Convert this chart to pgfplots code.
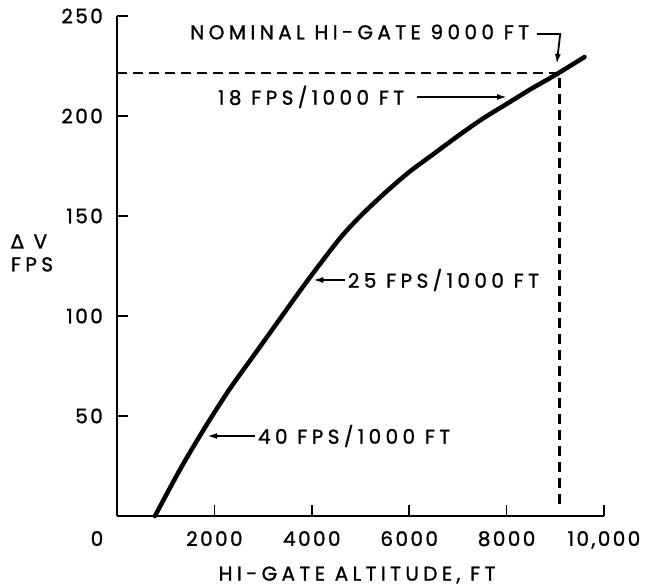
\documentclass[border=0pt]{standalone}
\usepackage{fontspec}
\setmainfont{Poppins}[LetterSpace=22, FakeBold=1.2]
\newfontfamily\tickfont{Poppins}[LetterSpace=12, FakeBold=1.2]
\newfontfamily\dejavu{DejaVu Sans}[FakeBold=1.2]
\usepackage{pgfplots}
\pgfplotsset{compat=1.18}
\usetikzlibrary{arrows.meta}
\begin{document}
\begin{tikzpicture}[font=\fontsize{20}{23}\selectfont]
\path[use as bounding box] (-117pt,-72pt) rectangle (528pt,516pt);
\begin{axis}[at={(0pt,0pt)}, anchor=south west, scale only axis,
  width=487pt, height=500pt,
  xmin=0, xmax=10000, ymin=0, ymax=250,
  axis x line=bottom, axis y line=left,
  axis line style={-, line width=1.8pt},
  scaled x ticks=false,
  xtick={2000,4000,6000,8000,10000},
  xticklabels={2000,4000,6000,8000,{10,000}},
  ytick={50,100,150,200,250},
  tick align=inside, major tick length=11pt,
  tick style={line width=1.6pt, black},
  /pgf/number format/assume math mode=true,
  ticklabel style={font=\tickfont\fontsize{20}{23}\selectfont},
  xticklabel style={anchor=north, inner sep=0pt, yshift=-15pt},
  yticklabel style={anchor=east, inner sep=0pt, xshift=-14pt},
  clip=false]
\addplot[line width=4.5pt, smooth, tension=0.5, line cap=round] coordinates {
(780,0) (1300,23.5) (1800,44) (2300,63) (2800,80) (3300,97) (3800,114)
(4200,127) (4600,139.5) (5000,150) (5500,161.5) (6000,172) (6500,181)
(7000,190) (7500,198.5) (8000,206) (8500,213.5) (9000,220.5) (9600,229.5)};
\addplot[line width=2.2pt, dash pattern=on 10pt off 6pt] coordinates {(0,221.6) (9087,221.6) (9087,4)};
% annotations
\node[anchor=west, inner sep=0pt] at (axis cs:1500,242) {NOMINAL HI-GATE 9000 FT};
\draw[line width=1.8pt, -{Latex[length=10pt,width=6pt]}] (axis cs:8620,241) -- (axis cs:9100,241) -- (axis cs:9030,226);
\node[anchor=west, inner sep=0pt] at (axis cs:2072,209.5) {18 FPS/1000 FT};
\draw[line width=1.8pt, -{Latex[length=10pt,width=6pt]}] (axis cs:6154,209.5) -- (axis cs:8010,209.5);
\node[anchor=west, inner sep=0pt] at (axis cs:4738,118) {25 FPS/1000 FT};
\draw[line width=1.8pt, -{Latex[length=10pt,width=6pt]}] (axis cs:4677,118) -- (axis cs:4030,118);
\node[anchor=west, inner sep=0pt] at (axis cs:2892,40) {40 FPS/1000 FT};
\draw[line width=1.8pt, -{Latex[length=10pt,width=6pt]}] (axis cs:2830,40) -- (axis cs:1850,40);
\node[anchor=north, inner sep=0pt, font=\tickfont\fontsize{20}{23}\selectfont] at ([xshift=-20pt, yshift=-15pt]axis cs:0,0) {0};
\node[align=left, inner sep=0pt] at ([xshift=-85pt]axis cs:0,131.5) {{\dejavu\fontsize{19}{22}\selectfont Δ} V\\FPS};
\node[inner sep=0pt] at ([yshift=-59pt]axis cs:4930,0) {HI-GATE ALTITUDE, FT};
\end{axis}
\end{tikzpicture}
\end{document}
